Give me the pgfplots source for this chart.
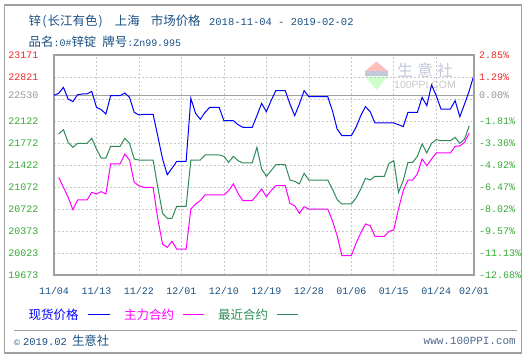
\documentclass[border=0pt]{standalone}
\usepackage{pgfplots}
\pgfplotsset{compat=1.18}
\usepackage{pgfplotstable}
\usepackage{fontspec}
\setmainfont{Liberation Sans}
\newfontfamily\cjk{Noto Sans CJK SC}
\newfontfamily\mono{Liberation Mono}
\definecolor{titleblue}{RGB}{25,80,130}
\definecolor{redlab}{RGB}{240,40,40}
\definecolor{greenlab}{RGB}{50,170,50}
\definecolor{graylab}{RGB}{150,150,150}
\definecolor{lineblue}{RGB}{0,0,255}
\definecolor{linemag}{RGB}{255,0,255}
\definecolor{linegreen}{RGB}{46,139,87}
\definecolor{gridgray}{RGB}{200,200,200}
\definecolor{bordergray}{RGB}{160,160,160}
\definecolor{wmgray}{RGB}{195,200,218}

\pgfplotstableread{
d v
0 22530
1 22561
2 22657
3 22471
4 22429
5 22540
6 22551
7 22551
8 22593
9 22339
10 22302
11 22233
12 22524
13 22524
14 22524
15 22567
16 22498
17 22259
18 22217
19 22227
20 22227
21 22227
22 21880
23 21520
24 21268
25 21369
26 21480
27 21480
28 21480
29 22482
30 22244
31 22148
32 22259
33 22339
34 22339
35 22339
36 22127
37 22127
38 22127
39 22063
40 22021
41 22021
42 22021
43 22206
44 22402
45 22270
46 22445
47 22604
48 22604
49 22604
50 22392
51 22206
52 22392
53 22604
54 22508
55 22508
56 22508
57 22508
58 22508
59 22286
60 21994
61 21888
62 21888
63 21888
64 22021
65 22206
66 22350
67 22270
68 22090
69 22090
70 22090
71 22090
72 22090
73 22063
74 22032
75 22259
76 22259
77 22259
78 22498
79 22365
80 22694
81 22524
82 22312
83 22312
84 22312
85 22445
86 22190
87 22392
88 22604
89 22858
}\spot

\pgfplotstableread{
d v
1 21226
2 21067
3 20908
4 20712
5 20866
6 20866
7 20866
8 20987
9 20961
10 20998
11 20961
12 21438
13 21438
14 21438
15 21596
16 21501
17 21146
18 21093
19 21067
20 21067
21 21067
22 20564
23 20166
24 20113
25 20208
26 20086
27 20086
28 20086
29 20722
30 20802
31 20855
32 20945
33 20945
34 20945
35 20945
36 20945
37 21014
38 21120
39 20971
40 20855
41 20855
42 20855
43 20945
44 21040
45 20918
46 21014
47 21093
48 21093
49 21093
50 20812
51 20775
52 20654
53 20759
54 20722
55 20722
56 20722
57 20722
58 20722
59 20537
60 20298
61 19980
62 19980
63 19980
64 20177
65 20341
66 20484
67 20457
68 20288
69 20288
70 20288
71 20367
72 20388
73 20722
74 21014
75 21183
76 21183
77 21279
78 21517
79 21411
80 21517
81 21613
82 21613
83 21613
84 21613
85 21719
86 21724
87 21782
88 21931
}\main

\pgfplotstableread{
d v
1 21915
2 21984
3 21782
4 21703
5 21766
6 21766
7 21766
8 21846
9 21676
10 21533
11 21533
12 21719
13 21719
14 21719
15 21846
16 21766
17 21517
18 21501
19 21501
20 21501
21 21501
22 21067
23 20654
24 20574
25 20574
26 20765
27 20765
28 20765
29 21501
30 21501
31 21501
32 21581
33 21581
34 21581
35 21581
36 21560
37 21464
38 21560
39 21491
40 21454
41 21454
42 21454
43 21703
44 21358
45 21242
46 21332
47 21427
48 21427
49 21427
50 21183
51 21162
52 21120
53 21290
54 21183
55 21183
56 21183
57 21183
58 21183
59 21040
60 20871
61 20802
62 20802
63 20802
64 20897
65 21040
66 21210
67 21183
68 21242
69 21242
70 21242
71 21448
72 21491
73 20987
74 21173
75 21464
76 21464
77 21560
78 21756
79 21613
80 21766
81 21825
82 21809
83 21809
84 21809
85 21862
86 21766
87 21835
88 22047
}\near

\begin{document}
\begin{tikzpicture}
\path (0bp,0bp) rectangle (526bp,359bp);
\draw[bordergray, line width=1.2bp] (4.5bp,6bp) rectangle (521.5bp,354bp);
% title
\node[anchor=west, inner sep=0, text=titleblue] at (28.5bp,338bp) {\cjk\fontsize{12.5}{14}\selectfont 锌\makebox[6.5bp]{(}长江有色\makebox[6.5bp]{)}\hspace{11bp}上海\hspace{11bp}市场价格\hspace{8.5bp}{\mono\fontsize{10.5}{12}\selectfont 2018-11-04 - 2019-02-02}};
\node[anchor=west, inner sep=0, text=titleblue] at (28.5bp,317bp) {\cjk\fontsize{12.5}{14}\selectfont 品名{\mono\fontsize{10}{12}\selectfont :0\#}锌锭\hspace{6bp}牌号{\mono\fontsize{10}{12}\selectfont :Zn99.995}};
% watermark
\fill[red!25] (365bp,288bp) -- (388bp,288bp) -- (376.5bp,297.5bp) -- cycle;
\fill[wmgray] (365bp,282.5bp) rectangle (388bp,288bp);
\fill[green!20] (365bp,282.5bp) -- (388bp,282.5bp) -- (376.5bp,269bp) -- cycle;
\node[text=wmgray, inner sep=0] at (425bp,289bp) {\cjk\fontsize{16}{18}\selectfont 生\hspace{4bp}意\hspace{4bp}社};
\node[text=black!22, inner sep=0] at (425bp,274.5bp) {\fontsize{10.5}{12}\selectfont 100PPI.COM};

\begin{axis}[at={(54bp,84bp)}, anchor=south west, scale only axis,
  width=420bp, height=220bp,
  xmin=0, xmax=89, ymin=19673, ymax=23171,
  scaled y ticks=false, scaled x ticks=false,
  axis line style={bordergray, line width=1.2bp},
  major tick length=0,
  grid=major,
  major grid style={gridgray, dash pattern=on 2bp off 2bp, line width=0.6bp},
  xtick={0,9,18,27,36,45,54,63,72,81,89},
  xticklabels={11/04,11/13,11/22,12/01,12/10,12/19,12/28,01/06,01/15,01/24,02/01},
  xticklabel style={font=\mono\fontsize{10}{12}\selectfont, text=titleblue, anchor=base, inner sep=0, yshift=-20bp},
  ytick={19673,20022.8,20372.6,20722.4,21072.2,21422,21771.8,22121.6,22471.4,22821.2,23171},
  yticklabels={\textcolor{greenlab}{19673},\textcolor{greenlab}{20023},\textcolor{greenlab}{20373},\textcolor{greenlab}{20722},\textcolor{greenlab}{21072},\textcolor{greenlab}{21422},\textcolor{greenlab}{21772},\textcolor{greenlab}{22122},{},\textcolor{redlab}{22821},\textcolor{redlab}{23171}},
  yticklabel style={font=\mono\fontsize{10}{12}\selectfont, anchor=east, inner sep=0, xshift=-15.5bp},
  extra y ticks={22530},
  extra y tick labels={\textcolor{graylab}{22530}},
  extra y tick style={grid=major, major grid style={draw=bordergray, solid, line width=1bp}},
  clip=false,
]
\addplot[lineblue, line width=1bp] table[x=d, y=v] {\spot};
\addplot[linemag, line width=1bp] table[x=d, y=v] {\main};
\addplot[linegreen, line width=1bp] table[x=d, y=v] {\near};
\end{axis}

\begin{axis}[at={(54bp,84bp)}, anchor=south west, scale only axis,
  width=420bp, height=220bp,
  xmin=0, xmax=89, ymin=19673, ymax=23171,
  scaled y ticks=false,
  hide x axis, axis y line*=right,
  axis line style={bordergray, line width=1.2bp},
  major tick length=0,
  ytick={19673,20022.8,20372.6,20722.4,21072.2,21422,21771.8,22121.6,22471.4,22821.2,23171},
  yticklabels={\textcolor{greenlab}{-12.68\%},\textcolor{greenlab}{-11.13\%},\textcolor{greenlab}{-9.57\%},\textcolor{greenlab}{-8.02\%},\textcolor{greenlab}{-6.47\%},\textcolor{greenlab}{-4.92\%},\textcolor{greenlab}{-3.36\%},\textcolor{greenlab}{-1.81\%},{},\textcolor{redlab}{1.29\%},\textcolor{redlab}{2.85\%}},
  yticklabel style={font=\mono\fontsize{10}{12}\selectfont, anchor=west, inner sep=0, xshift=5bp},
  extra y ticks={22530},
  extra y tick labels={\textcolor{graylab}{0.00\%}},
]
\addplot[draw=none] coordinates {(0,22530)};
\end{axis}

% legend
\node[anchor=west, inner sep=0, text=lineblue] at (28.5bp,44bp) {\cjk\fontsize{12.5}{14}\selectfont 现货价格};
\draw[lineblue, line width=1bp] (88bp,44bp) -- (110bp,44bp);
\node[anchor=west, inner sep=0, text=linemag] at (124bp,44bp) {\cjk\fontsize{12.5}{14}\selectfont 主力合约};
\draw[linemag, line width=1bp] (183bp,44bp) -- (204bp,44bp);
\node[anchor=west, inner sep=0, text=linegreen] at (218bp,44bp) {\cjk\fontsize{12.5}{14}\selectfont 最近合约};
\draw[linegreen, line width=1bp] (277bp,44bp) -- (298bp,44bp);
% footer
\draw[bordergray, line width=1bp] (14bp,28bp) -- (517bp,28bp);
\node[anchor=west, inner sep=0, text=titleblue] at (14bp,18.5bp) {{\fontsize{8}{10}\selectfont\textcopyright}\hspace{3bp}{\mono\fontsize{10.5}{12}\selectfont 2019.02}\hspace{5bp}{\cjk\fontsize{12.5}{14}\selectfont 生意社}};
\node[anchor=east, inner sep=0, text={rgb,255:red,80;green,105;blue,140}] at (516bp,18.5bp) {\mono\fontsize{11}{12}\selectfont www.100PPI.com};
\end{tikzpicture}
\end{document}
